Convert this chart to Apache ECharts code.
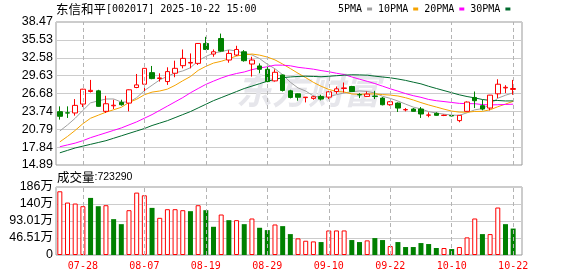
<!DOCTYPE html>
<html><head><meta charset="utf-8">
<script src="https://cdn.jsdelivr.net/npm/echarts@6.0.0/dist/echarts.min.js"></script>
<style>html,body{margin:0;padding:0;background:#fff}#c{width:578px;height:276px}</style>
</head><body><div id="c"></div>
<script>
const dates = ['07-23','07-24','07-25','07-28','07-29','07-30','07-31','08-01','08-04','08-05','08-06','08-07','08-08','08-11','08-12','08-13','08-14','08-15','08-18','08-19','08-20','08-21','08-22','08-25','08-26','08-27','08-28','08-29','09-01','09-02','09-03','09-04','09-05','09-08','09-09','09-10','09-11','09-12','09-15','09-16','09-17','09-18','09-19','09-22','09-23','09-24','09-25','09-26','09-29','09-30','10-09','10-10','10-13','10-14','10-15','10-16','10-17','10-20','10-21','10-22'];
const openP  = [23.68,23.50,23.47,24.94,27.01,27.12,23.74,24.65,25.21,25.10,27.67,28.21,30.12,29.15,28.65,30.02,31.27,31.70,31.65,34.93,33.18,35.75,32.20,33.02,33.56,31.54,31.22,30.67,28.76,29.74,27.12,26.63,26.00,25.87,26.20,26.08,27.01,27.50,27.83,26.50,26.20,26.25,25.92,24.83,25.10,23.98,24.12,24.12,23.10,23.41,23.05,23.05,22.21,23.74,26.03,24.67,24.28,26.63,27.60,27.35];
const closeP = [22.92,23.45,24.72,27.39,27.20,24.56,24.99,24.75,24.83,27.29,28.10,30.83,29.14,29.25,30.29,30.83,32.47,31.80,34.93,33.94,33.56,33.67,33.29,33.94,32.09,32.20,30.67,28.65,30.18,27.18,26.03,26.06,26.08,26.14,25.76,26.96,27.45,27.60,27.01,26.45,26.58,26.20,24.83,25.32,24.28,24.03,23.74,23.30,23.14,23.08,23.10,22.98,23.08,25.27,25.49,24.12,26.41,28.21,27.70,27.50];
const lowP   = [22.37,22.65,23.03,24.45,26.85,24.50,23.47,24.12,24.67,23.74,27.56,26.85,29.03,28.65,28.10,29.36,30.83,30.83,31.38,33.84,32.74,33.56,31.76,32.85,31.93,29.47,30.02,28.54,28.65,27.01,25.87,25.49,25.21,25.65,25.54,25.76,26.63,26.85,26.96,25.92,26.09,25.76,24.72,24.67,23.63,23.74,23.70,22.65,22.76,23.00,22.95,22.90,21.94,23.70,24.28,23.90,23.90,25.92,26.74,26.47];
const highP  = [24.56,24.56,25.76,27.45,28.92,27.29,26.30,25.65,25.65,27.35,29.90,30.90,31.22,30.01,31.00,32.09,33.94,33.29,35.00,36.02,33.94,36.56,33.84,34.55,33.84,32.74,31.65,31.11,30.67,29.80,27.29,26.70,26.10,26.30,26.47,27.12,27.83,28.49,27.94,26.74,27.01,27.12,26.09,25.43,25.21,24.28,24.28,24.45,23.58,23.58,23.20,23.10,23.10,25.38,27.01,25.65,26.45,29.03,28.05,28.92];
const ma5  = [20.5,21.5,22.6,23.9,25.14,25.46,25.77,25.78,25.27,25.28,25.99,27.16,28.04,28.92,29.52,30.07,30.40,30.93,32.06,32.79,33.34,33.58,33.88,33.68,33.31,33.04,32.44,31.51,30.76,29.78,28.54,27.60,27.08,26.28,26.01,26.18,26.48,26.79,26.96,27.10,27.02,26.77,26.22,25.88,25.44,24.93,24.44,24.13,23.70,23.46,23.27,23.12,23.08,23.50,23.98,24.19,24.87,25.90,26.39,26.79];
const ma10 = [18.7,19.6,20.6,21.7,22.6,23.1,23.6,24.0,24.4,25.21,25.73,26.47,26.91,27.09,27.40,28.03,28.78,29.48,30.49,31.16,31.70,31.99,32.40,32.87,33.05,33.19,33.01,32.69,32.22,31.54,30.79,30.02,29.30,28.52,27.88,27.35,27.03,26.93,26.61,26.54,26.59,26.62,26.50,26.42,26.27,25.98,25.61,25.18,24.79,24.45,24.10,23.78,23.61,23.60,23.72,23.73,24.00,24.49,24.94,25.39];
const ma20 = [17.9,18.2,18.5,18.9,19.4,19.8,20.2,20.6,21.0,21.5,22.0,22.6,23.2,23.9,24.6,25.3,26.0,26.8,27.5,28.18,28.72,29.23,29.66,29.98,30.23,30.61,30.89,31.09,31.36,31.35,31.25,31.00,30.85,30.69,30.46,30.27,30.02,29.81,29.41,29.04,28.69,28.32,27.89,27.46,27.07,26.66,26.32,26.05,25.70,25.49,25.35,25.20,25.05,25.01,25.00,24.85,24.80,24.83,24.87,24.92];
const ma30 = [16.9,17.3,17.7,18.0,18.3,18.6,18.9,19.3,19.7,20.1,20.5,20.9,21.4,21.8,22.2,22.7,23.2,23.7,24.3,24.9,25.5,26.0,26.5,27.0,27.5,27.9,28.3,28.7,29.0,29.30,29.41,29.49,29.53,29.49,29.44,29.52,29.61,29.70,29.77,29.75,29.70,29.54,29.40,29.27,29.07,28.84,28.55,28.27,27.87,27.51,27.16,26.81,26.46,26.18,25.96,25.69,25.54,25.53,25.45,25.46];
const volume = [174.3,143.5,140.8,133.5,156.2,133.5,136.2,98.1,84.4,122.6,170.7,163.4,128.9,101.7,125.3,125.3,122.6,119.9,136.2,122.6,77.2,110.8,95.3,95.3,84.4,99.9,74.5,68.1,83.5,79.0,57.2,45.5,39.0,37.2,35.4,67.2,67.2,67.2,40.9,35.4,40.0,46.3,40.9,24.5,35.4,21.8,21.8,32.7,30.0,19.1,19.1,16.3,21.8,48.2,99.9,57.2,57.2,129.9,84.4,72.329];
const volUp = [1,1,1,1,0,0,1,0,0,1,1,1,0,1,1,1,1,0,1,0,0,1,0,1,0,1,0,0,1,0,0,1,1,1,0,1,1,1,0,0,1,0,0,1,0,0,0,0,0,0,1,0,1,1,1,0,1,1,0,0];
const priceTicks = ['14.89','17.84','20.79','23.74','26.68','29.63','32.58','35.53','38.47'];
const volTicks = ['0','46.51万','93.01万','140万','186万'];
const priceMin = 14.89, priceMax = 38.47, volMax = 186.04, volStep = 46.51;

const RED = '#ff0000', GREEN = '#008000';
const MONO = 'DejaVu Sans Mono';
const chart = echarts.init(document.getElementById('c'));
const labelEvery = (i) => i % 8 === 3;
const L = 56, TOP1 = 22, H1 = 143, TOP2 = 187, H2 = 68, WF = 466, WC = 461;
const vLines = {
  silent: true, symbol: 'none',
  label: {show: false},
  lineStyle: {color: '#b4b4b4', type: [4, 3], width: 1},
  data: dates.filter((d, i) => labelEvery(i)).map((d) => ({xAxis: d}))
};

chart.setOption({
  animation: false,
  title: [
    {text: '{a|东信和平}{b|[002017] 2025-10-22 15:00}', left: 56, top: 3, padding: 0,
     textStyle: {fontWeight: 'normal', rich: {a: {fontFamily: 'Noto Sans CJK SC', fontSize: 12.5, fontWeight: 'normal', color: '#000'}, b: {fontFamily: MONO, fontSize: 10, fontWeight: 'normal', color: '#000'}}}},
    {text: '{a|成交量}{b|:723290}', left: 57, top: 171, padding: 0,
     textStyle: {fontWeight: 'normal', rich: {a: {fontFamily: 'Noto Sans CJK SC', fontSize: 12.5, fontWeight: 'normal', color: '#000'}, b: {fontFamily: 'Liberation Sans', fontSize: 10.5, fontWeight: 'normal', color: '#000'}}}}
  ],
  legend: {
    left: 338, top: 4, padding: 0, itemWidth: 5, itemHeight: 3, itemGap: 6, align: 'right', icon: 'rect',
    textStyle: {fontFamily: MONO, fontSize: 10, color: '#000'},
    data: ['5PMA', '10PMA', '20PMA', '30PMA'], selectedMode: false
  },
  graphic: [{type: 'text', z: 1, left: 236, top: 72,
    style: {text: '东方财富', fill: '#e6e6eb', font: 'italic bold 36px "Noto Sans CJK SC"'}}],
  grid: [
    {left: L, top: TOP1, width: WF, height: H1, show: true, borderColor: '#999', borderWidth: 1},
    {left: L, top: TOP1, width: WC, height: H1},
    {left: L, top: TOP2, width: WF, height: H2, show: true, borderColor: '#999', borderWidth: 1},
    {left: L, top: TOP2, width: WC, height: H2}
  ],
  xAxis: [
    {gridIndex: 0, type: 'category', data: [''], show: false},
    {gridIndex: 1, type: 'category', data: dates,
     axisLine: {show: false}, axisTick: {show: false}, axisLabel: {show: false}, splitLine: {show: false}},
    {gridIndex: 2, type: 'category', data: [''], show: false},
    {gridIndex: 3, type: 'category', data: dates,
     axisLine: {show: false}, axisTick: {show: false}, splitLine: {show: false},
     axisLabel: {interval: labelEvery, color: RED, fontFamily: MONO, fontSize: 10, margin: 6}}
  ],
  yAxis: [
    {gridIndex: 0, type: 'value', min: 0, max: priceTicks.length - 1, interval: 1,
     axisLine: {show: false}, axisTick: {show: false},
     axisLabel: {margin: 3, color: '#000', fontFamily: 'Liberation Sans', fontSize: 12.5, formatter: (v) => priceTicks[Math.round(v)]},
     splitLine: {lineStyle: {color: '#ccc', width: 1}}},
    {gridIndex: 1, type: 'value', min: priceMin, max: priceMax, axisLine: {show: false}, axisTick: {show: false}, axisLabel: {show: false}, splitLine: {show: false}},
    {gridIndex: 2, type: 'value', min: 0, max: volMax, interval: volStep,
     axisLine: {show: false}, axisTick: {show: false},
     axisLabel: {margin: 3, color: '#000', fontFamily: 'Liberation Sans, Noto Sans CJK SC', fontSize: 12.5, formatter: (v) => volTicks[Math.round(v / volStep)]},
     splitLine: {lineStyle: {color: '#ccc', width: 1}}},
    {gridIndex: 3, type: 'value', min: 0, max: volMax, axisLine: {show: false}, axisTick: {show: false}, axisLabel: {show: false}, splitLine: {show: false}}
  ],
  series: [
    {type: 'candlestick', name: 'K', xAxisIndex: 1, yAxisIndex: 1, barWidth: 5, z: 4,
     data: dates.map((d, i) => [openP[i], closeP[i], lowP[i], highP[i]]),
     itemStyle: {color: '#fff', borderColor: RED, color0: GREEN, borderColor0: GREEN, borderWidth: 1}},
    {type: 'line', name: '5PMA', xAxisIndex: 1, yAxisIndex: 1, data: ma5, showSymbol: false, symbol: 'none', color: '#a0a0a0', lineStyle: {width: 1, color: '#a0a0a0'}, z: 3,
     markLine: vLines},
    {type: 'line', name: '10PMA', xAxisIndex: 1, yAxisIndex: 1, data: ma10, showSymbol: false, symbol: 'none', color: '#f5a300', lineStyle: {width: 1, color: '#f5a300'}, z: 3},
    {type: 'line', name: '20PMA', xAxisIndex: 1, yAxisIndex: 1, data: ma20, showSymbol: false, symbol: 'none', color: '#ff00ff', lineStyle: {width: 1, color: '#ff00ff'}, z: 3},
    {type: 'line', name: '30PMA', xAxisIndex: 1, yAxisIndex: 1, data: ma30, showSymbol: false, symbol: 'none', color: '#006a2e', lineStyle: {width: 1, color: '#006a2e'}, z: 3},
    {type: 'bar', name: 'VOL', xAxisIndex: 3, yAxisIndex: 3, barWidth: 5, z: 3,
     data: volume.map((v, i) => ({value: v, itemStyle: volUp[i] ? {color: '#fff', borderColor: RED, borderWidth: 1} : {color: GREEN, borderColor: GREEN, borderWidth: 0}})),
     markLine: vLines}
  ]
});
</script></body></html>
